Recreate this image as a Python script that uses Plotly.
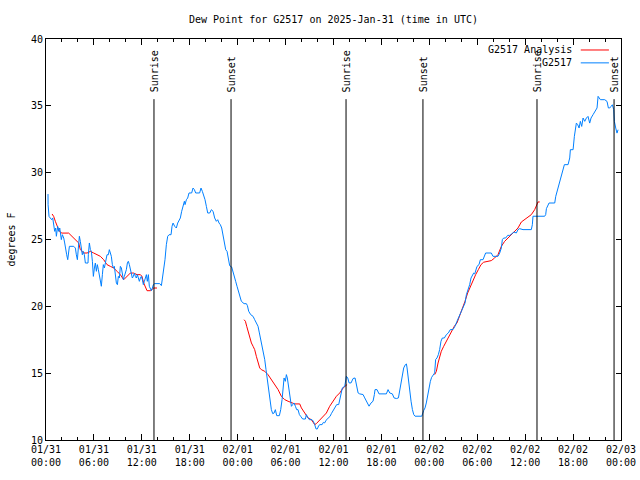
import plotly.graph_objects as go

# ---------------- data (hours since 2025-01-31 00:00 UTC, degrees F) ----------------
obs_hours = [
    0.25, 0.26, 0.38, 0.55, 0.71, 0.84, 0.96, 1.09, 1.21, 1.30, 1.46, 1.59, 1.72, 1.80, 1.92, 2.05,
    2.22, 2.34, 2.47, 2.59, 2.72, 2.80, 2.93, 3.47, 3.68, 3.80, 3.93, 4.05, 4.18, 4.30, 4.43, 4.55,
    4.68, 4.80, 4.93, 5.26, 5.30, 5.43, 5.56, 5.68, 5.81, 5.93, 6.06, 6.18, 6.31, 6.43, 6.56, 6.68,
    6.81, 6.93, 7.06, 7.18, 7.31, 7.43, 7.64, 7.81, 7.93, 8.06, 8.18, 8.31, 8.44, 8.56, 8.69, 8.81,
    8.94, 9.06, 9.19, 9.31, 9.44, 9.56, 9.69, 9.81, 9.94, 10.06, 10.19, 10.31, 10.44, 10.56, 10.69,
    10.81, 10.94, 11.06, 11.19, 11.31, 11.44, 11.57, 11.69, 11.82, 11.94, 12.07, 12.19, 12.32, 12.44,
    12.57, 12.69, 12.82, 12.94, 13.07, 13.19, 13.32, 13.44, 13.61,
    14.24, 14.45, 14.57, 14.74, 14.90, 15.07, 15.24, 15.41, 15.66, 15.78, 15.91, 16.11, 16.32, 16.49,
    16.66, 16.82, 16.99, 17.16, 17.33, 17.41, 17.58, 17.74, 17.91, 18.24, 18.41, 18.58, 18.74, 19.24,
    19.41, 19.58, 19.75, 19.91, 20.08, 20.25, 20.50, 20.71, 20.92, 21.12, 21.33, 21.50, 21.67, 21.83,
    22.00, 22.17, 22.33, 22.50, 22.67, 22.83, 23.00, 23.25, 23.42, 23.59, 23.75, 23.92, 24.09, 24.25,
    24.46, 24.80, 25.09, 25.22, 25.38, 25.63, 25.93, 26.13, 26.34, 26.55, 26.72, 26.89, 27.05, 27.22,
    27.39, 27.55, 27.72, 27.89, 28.05, 28.22, 28.39, 28.56, 28.72, 28.89, 29.22, 29.39, 29.56, 29.72,
    29.81, 29.97, 30.10, 30.22, 30.39, 30.56, 30.73, 30.89, 31.06, 31.23, 31.39, 31.56, 31.73, 31.89,
    32.14, 32.48, 32.60, 32.81, 32.98, 33.31, 33.48, 33.65, 33.81, 33.98, 34.15, 34.31, 34.57, 34.73,
    34.90, 35.07, 35.32, 35.57, 35.73, 35.90, 36.07, 36.23, 36.40, 36.65,
    36.91, 37.11, 37.41, 37.61, 37.78, 37.95, 38.20, 38.45, 38.70, 38.87, 39.08, 39.28, 39.70, 39.91,
    40.20, 40.45, 40.70, 40.95, 41.12, 41.20, 41.45, 41.70, 42.62, 42.83, 43.04, 43.37, 43.58, 43.88,
    44.13, 44.29, 44.46, 44.63, 44.79, 45.00, 45.13, 45.21, 45.38, 45.55, 45.71, 45.88, 46.05, 46.21,
    47.05,
    47.29, 47.46, 47.62, 47.79, 47.96, 48.13, 48.29, 48.46, 48.67, 48.79, 48.96, 49.13, 49.29, 49.46,
    49.63, 49.88, 50.13, 50.38, 50.63, 50.96, 51.21, 51.46, 51.72, 51.97, 52.22, 52.47, 52.64, 52.88,
    53.05, 53.22, 53.38, 53.55, 53.68, 53.80, 53.97, 54.22, 54.39, 54.72, 54.89, 55.05, 55.76, 55.97,
    56.60, 56.81, 57.02, 57.14, 57.31, 57.56, 57.81, 58.06, 58.31, 58.56, 58.90, 59.10, 59.31, 59.73,
    60.77, 60.90, 60.98, 62.44,
    62.57, 62.66, 62.99, 63.70, 63.83, 64.00, 64.16, 64.33, 64.53, 64.74, 64.91, 65.37, 65.58, 65.66,
    66.00, 66.16, 66.33, 66.41, 66.58, 66.75, 66.91, 67.08, 67.25, 67.46, 67.67, 67.87, 68.08, 68.25,
    68.50, 68.75, 69.00, 69.13, 69.25, 69.42, 69.96, 70.25, 70.42, 70.59, 70.75, 70.92, 71.09, 71.17,
    71.34, 71.50, 71.63,
]
obs_dewpt = [
    28.40, 27.60, 26.73, 26.61, 26.48, 26.61, 26.23, 25.61, 25.86, 25.24, 25.98, 25.61, 25.86, 25.36, 24.99, 25.36,
    25.11, 24.74, 24.11, 23.86, 23.49, 24.11, 24.49, 24.49, 24.36, 23.86, 23.49, 24.36, 25.24, 24.86, 24.11, 23.86,
    24.11, 23.86, 23.24, 23.24, 23.86, 24.74, 24.24, 24.11, 23.37, 22.24, 22.87, 23.24, 22.62, 23.12, 22.74, 22.37,
    21.87, 21.50, 22.37, 23.12, 22.87, 23.37, 23.86, 23.86, 24.24, 23.99, 23.74, 23.12, 22.87, 22.99, 22.49, 21.75,
    21.62, 22.24, 22.12, 22.99, 22.87, 22.37, 21.99, 22.24, 22.49, 22.74, 23.24, 23.37, 23.12, 22.74, 22.37,
    22.12, 22.24, 22.49, 22.24, 22.12, 22.37, 21.99, 21.87, 22.12, 22.24, 21.99, 21.62, 21.87, 22.24,
    22.37, 21.87, 22.37, 21.50, 21.25, 21.17, 21.37, 21.62, 21.70,
    21.70, 21.55, 22.00, 22.75, 23.49, 24.61, 25.24, 25.36, 25.36, 25.99, 26.23, 25.99, 25.86, 26.23,
    26.48, 26.61, 27.11, 27.48, 27.86, 27.61, 27.98, 28.10, 28.48, 28.48, 28.85, 28.73, 28.48, 28.48,
    28.85, 28.60, 28.35, 27.98, 27.48, 26.98, 26.98, 27.23, 27.11, 26.61, 26.36, 26.48, 26.23, 26.11,
    25.86, 25.36, 24.86, 24.24, 24.11, 23.62, 23.04, 22.94, 22.50, 22.12, 21.87, 21.50, 21.12, 20.95,
    20.38, 20.20, 20.20, 20.05, 19.63, 19.38, 19.25, 19.00, 18.75, 18.51, 18.01, 17.51, 17.01, 16.51,
    16.01, 15.26, 14.52, 13.77, 13.02, 12.27, 11.97, 12.02, 12.27, 11.82, 11.82, 12.27, 13.02, 14.02,
    14.64, 14.39, 14.89, 14.64, 13.89, 13.15, 12.52, 12.65, 12.77, 12.52, 12.27, 12.27, 11.90, 11.77,
    11.57, 11.57, 11.90, 11.65, 11.52, 11.52, 11.40, 11.15, 10.83, 10.83, 11.08, 11.15, 11.15, 11.32,
    11.28, 11.48, 11.65, 11.77, 11.97, 12.15, 12.27, 12.40, 12.65, 12.65,
    13.27, 13.90, 14.02, 14.77, 14.64, 14.27, 14.27, 14.60, 14.64, 14.15, 13.52, 13.45, 13.40, 13.15,
    12.77, 12.53, 12.77, 12.90, 13.40, 13.77, 13.77, 13.45, 13.45, 13.77, 13.52, 13.45, 13.15, 13.10,
    13.15, 13.65, 14.27, 14.89, 15.39, 15.64, 15.69, 15.39, 14.40, 13.65, 12.90, 12.28, 11.90, 11.78,
    11.78,
    12.20, 12.40, 12.77, 13.40, 13.89, 14.39, 14.69, 14.89, 15.02, 16.02, 16.14, 16.39, 16.76, 17.39,
    17.63, 17.63, 17.88, 18.01, 18.26, 18.26, 18.51, 18.88, 19.26, 19.63, 19.88, 20.25, 20.87, 21.25,
    21.62, 22.12, 22.37, 22.49, 22.42, 22.75, 22.99, 23.12, 23.49, 23.49, 23.74, 23.99, 23.99, 23.74,
    23.74, 23.99, 24.37, 24.99, 25.11, 25.11, 25.31, 25.31, 25.41, 25.56, 25.49, 25.74, 25.81, 25.74,
    25.74, 26.11, 26.74, 26.74,
    26.86, 27.31, 27.73, 27.73, 28.23, 28.60, 29.10, 29.47, 29.85, 30.22, 30.60, 30.60, 31.10, 31.72,
    31.72, 32.72, 33.46, 33.71, 33.59, 33.34, 33.84, 33.46, 34.09, 33.84, 34.09, 34.21, 33.71, 34.09,
    34.34, 34.59, 34.84, 35.71, 35.58, 35.46, 35.46, 35.33, 34.84, 34.84, 34.96, 35.08, 34.71, 33.84,
    33.34, 32.96, 33.21,
]

ana_hours = [
    0.76, 0.96, 1.17, 1.38, 1.59, 1.80, 2.01, 2.84, 3.05, 3.47, 3.89, 4.09, 4.30, 4.72, 5.14, 5.56,
    5.97, 6.39, 6.81, 7.22, 7.64, 8.06, 8.48, 8.89, 9.31, 9.73, 10.15, 10.56, 10.98, 11.40, 11.82,
    12.02, 12.23, 12.44, 12.65, 13.07, 13.49, 13.90, None,
    24.80, 24.97, 25.13, 25.30, 25.51, 25.72, 25.93, 26.13, 26.34, 26.55, 26.76, 26.97, 27.39, 27.80,
    28.22, 28.64, 29.06, 29.47, 29.89, 30.31, 30.73, 31.14, 31.77, 31.98, 32.40, 32.81, 33.23, 33.65,
    33.86, 34.27, 34.69, 35.11, 35.52, 35.94, 36.36, 36.78, 37.20, 37.70, None,
    48.67, 48.88, 49.09, 49.29, 49.50, 49.80, 50.13, 50.46, 50.80, 51.13, 51.46, 51.80, 52.13, 52.47,
    52.80, 53.13, 53.47, 53.80, 54.14, 54.47, 54.80, 55.35, 55.76, 56.18, 56.60, 57.02, 57.43, 57.85,
    58.48, 59.10, 59.52, 59.94, 60.36, 60.77, 61.19, 61.48, 61.61, 61.82,
]
ana_dewpt = [
    26.91, 26.73, 26.36, 25.98, 25.73, 25.53, 25.48, 25.48, 25.36, 25.11, 24.86, 24.74, 24.24, 23.99, 23.99, 24.11,
    23.99, 23.86, 23.74, 23.49, 23.12, 22.99, 22.87, 22.62, 22.37, 21.99, 22.24, 22.49, 22.49, 22.37, 22.37,
    22.24, 21.75, 21.50, 21.17, 21.17, 21.37, 21.37, None,
    19.00, 18.88, 18.51, 18.13, 17.63, 17.26, 17.01, 16.76, 16.26, 15.76, 15.39, 15.26, 15.14, 14.89,
    14.52, 14.14, 13.77, 13.27, 13.02, 12.90, 12.77, 12.70, 12.70, 12.40, 12.02, 11.65, 11.52, 11.15,
    11.23, 11.48, 11.72, 12.02, 12.52, 12.90, 13.27, 13.52, 13.89, 14.15, None,
    14.89, 15.14, 15.76, 16.14, 16.64, 17.01, 17.38, 17.76, 18.18, 18.51, 18.76, 19.26, 19.75, 20.38,
    21.00, 21.50, 21.99, 22.37, 22.75, 23.12, 23.30, 23.37, 23.42, 23.62, 23.87, 24.49, 24.86, 25.11,
    25.49, 25.86, 26.31, 26.49, 26.66, 26.86, 27.23, 27.61, 27.81, 27.81,
]

sun_event_hours = [13.52, 23.17, 37.57, 47.20, 61.48, 71.13]
sun_event_labels = ["Sunrise", "Sunset", "Sunrise", "Sunset", "Sunrise", "Sunset"]

x_tick_hours = [0, 6, 12, 18, 24, 30, 36, 42, 48, 54, 60, 66, 72]
x_tick_labels = ["01/31<br>00:00", "01/31<br>06:00", "01/31<br>12:00", "01/31<br>18:00",
                 "02/01<br>00:00", "02/01<br>06:00", "02/01<br>12:00", "02/01<br>18:00",
                 "02/02<br>00:00", "02/02<br>06:00", "02/02<br>12:00", "02/02<br>18:00",
                 "02/03<br>00:00"]

series_names = ["G2517 Analysis", "G2517"]
series_colors = ["#ff0000", "#0080ff"]

# ---------------- figure ----------------
FONT = "DejaVu Sans Mono"
fig = go.Figure()
fig.add_trace(go.Scatter(x=ana_hours, y=ana_dewpt, mode="lines", name=series_names[0],
                         line=dict(color=series_colors[0], width=1), showlegend=False,
                         connectgaps=False))
fig.add_trace(go.Scatter(x=obs_hours, y=obs_dewpt, mode="lines", name=series_names[1],
                         line=dict(color=series_colors[1], width=1), showlegend=False))

shapes = []
annotations = []
for h, lab in zip(sun_event_hours, sun_event_labels):
    shapes.append(dict(type="line", xref="x", yref="paper", x0=h, x1=h, y0=0, y1=0.85,
                       line=dict(color="black", width=1)))
    annotations.append(dict(x=h, y=0.862, xref="x", yref="paper", text=lab, textangle=-90,
                            showarrow=False, xanchor="center", yanchor="bottom",
                            font=dict(family=FONT, size=10, color="black")))

# manual gnuplot-style key (text left of sample)
key_y = [0.9726, 0.9405]
for name, col, ky in zip(series_names, series_colors, key_y):
    annotations.append(dict(x=0.918, y=ky, xref="paper", yref="paper", text=name,
                            showarrow=False, xanchor="right", yanchor="middle",
                            font=dict(family=FONT, size=10, color="black")))
    shapes.append(dict(type="line", xref="paper", yref="paper", x0=0.930, x1=0.979,
                       y0=ky, y1=ky, line=dict(color=col, width=1)))

fig.update_layout(
    width=640, height=480,
    margin=dict(l=46, r=19, t=39, b=40, autoexpand=False),
    paper_bgcolor="white", plot_bgcolor="white",
    font=dict(family=FONT, size=10, color="black"),
    title=dict(text="Dew Point for G2517 on 2025-Jan-31 (time in UTC)", x=0.5, xref="paper",
               xanchor="center", y=0.96, yref="container", yanchor="middle",
               font=dict(family=FONT, size=10, color="black")),
    shapes=shapes, annotations=annotations,
    showlegend=False,
)
fig.update_xaxes(range=[0, 72], tickvals=x_tick_hours, ticktext=x_tick_labels, automargin=False,
                 ticks="inside", ticklen=6, tickcolor="black", showline=True, linecolor="black",
                 linewidth=1, mirror="ticks", showgrid=False, zeroline=False,
                 minor=dict(dtick=2, tick0=0, ticks="inside", ticklen=3, tickcolor="black", showgrid=False),
                 tickfont=dict(family=FONT, size=10, color="black"))
fig.update_yaxes(range=[10, 40], dtick=5, tick0=10, ticks="inside", ticklen=5, tickcolor="black",
                 automargin=False,
                 showline=True, linecolor="black", linewidth=1, mirror="ticks", showgrid=False,
                 zeroline=False, title=dict(text="degrees F", standoff=13,
                                            font=dict(family=FONT, size=10, color="black")),
                 tickfont=dict(family=FONT, size=10, color="black"))

fig.write_html("out.html", config={"displayModeBar": False},
               post_script="document.body.style.margin='0px';")
